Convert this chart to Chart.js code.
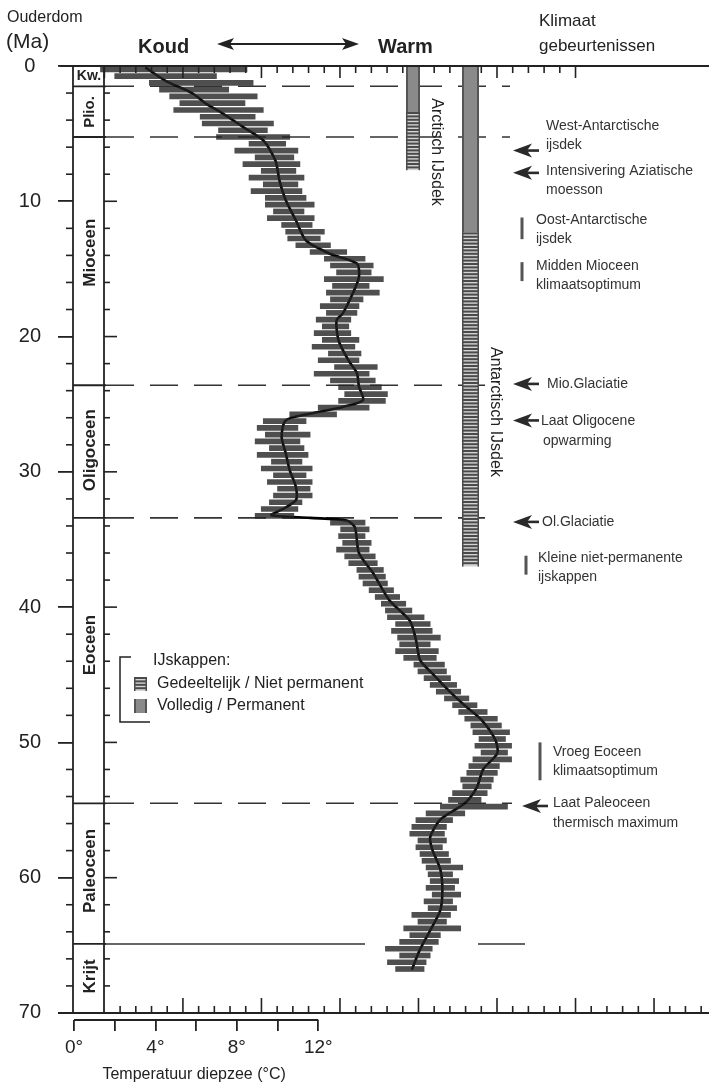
<!DOCTYPE html>
<html>
<head>
<meta charset="utf-8">
<script src="https://cdn.jsdelivr.net/npm/chart.js@4.4.1/dist/chart.umd.min.js"></script>
<style>
  html, body { margin: 0; padding: 0; background: #fff; }
  #wrap { width: 709px; height: 1086px; }
</style>
</head>
<body>
<div id="wrap"><canvas id="c" width="709" height="1086"></canvas></div>
<script>
// Gladde curve: ouderdom (Ma) en temperatuur diepzee (°C)
const smoothAge = [0.1, 1.1, 2.0, 2.8, 3.5, 4.5, 5.5, 7.0, 8.5, 9.9,
  11.4, 12.9, 13.9, 14.6, 15.6, 16.8, 18.3, 18.8, 20.3, 21.8,
  22.7, 23.7, 24.7, 25.2, 25.7, 26.2, 27.4, 28.6, 29.9, 31.1,
  32.1, 32.8, 33.2, 33.4, 33.6, 34.1, 36.0, 37.5, 39.5, 41.0,
  42.4, 43.9, 44.9, 46.3, 47.4, 48.3, 49.8, 50.8, 52.0, 53.3,
  54.5, 55.7, 57.0, 57.9, 59.4, 60.9, 62.4, 63.9, 65.3, 66.8];
const smoothTemp = [3.5, 4.5, 5.8, 6.5, 7.3, 8.3, 9.3, 9.9, 10.1, 10.4,
  10.9, 11.4, 12.6, 13.9, 14.0, 13.7, 13.2, 12.9, 13.0, 13.5,
  13.9, 14.0, 14.2, 13.2, 11.6, 10.4, 10.2, 10.4, 10.6, 10.9,
  10.9, 10.2, 9.7, 11.6, 13.4, 13.8, 14.0, 14.7, 15.5, 16.5,
  16.8, 17.0, 17.6, 18.5, 19.3, 20.0, 20.7, 20.8, 20.1, 19.8,
  19.2, 18.0, 17.5, 17.6, 18.0, 18.1, 18.0, 17.5, 17.0, 16.6];

// Ruwe metingen: spreiding per halve Ma (laagste / hoogste waarde)
const rawAge = [0.25, 0.75, 1.25, 1.75, 2.25, 2.75, 3.25, 3.75, 4.25, 4.75,
  5.25, 5.75, 6.25, 6.75, 7.25, 7.75, 8.25, 8.75, 9.25, 9.75,
  10.25, 10.75, 11.25, 11.75, 12.25, 12.75, 13.25, 13.75, 14.25, 14.75,
  15.25, 15.75, 16.25, 16.75, 17.25, 17.75, 18.25, 18.75, 19.25, 19.75,
  20.25, 20.75, 21.25, 21.75, 22.25, 22.75, 23.25, 23.75, 24.25, 24.75,
  25.25, 25.75, 26.25, 26.75, 27.25, 27.75, 28.25, 28.75, 29.25, 29.75,
  30.25, 30.75, 31.25, 31.75, 32.25, 32.75, 33.25, 33.75, 34.25, 34.75,
  35.25, 35.75, 36.25, 36.75, 37.25, 37.75, 38.25, 38.75, 39.25, 39.75,
  40.25, 40.75, 41.25, 41.75, 42.25, 42.75, 43.25, 43.75, 44.25, 44.75,
  45.25, 45.75, 46.25, 46.75, 47.25, 47.75, 48.25, 48.75, 49.25, 49.75,
  50.25, 50.75, 51.25, 51.75, 52.25, 52.75, 53.25, 53.75, 54.25, 54.75,
  55.25, 55.75, 56.25, 56.75, 57.25, 57.75, 58.25, 58.75, 59.25, 59.75,
  60.25, 60.75, 61.25, 61.75, 62.25, 62.75, 63.25, 63.75, 64.25, 64.75,
  65.25, 65.75, 66.25, 66.75];
const rawLo = [1.3, 2.0, 3.7, 4.2, 4.7, 5.2, 4.9, 6.2, 6.3, 7.1,
  7.0, 8.6, 7.9, 8.9, 8.3, 9.2, 8.6, 9.3, 8.7, 9.4,
  9.4, 9.8, 9.5, 10.2, 10.4, 10.5, 10.9, 11.6, 12.3, 12.6,
  12.9, 12.3, 12.7, 12.4, 12.6, 12.1, 12.4, 11.9, 12.2, 11.8,
  12.2, 11.7, 12.5, 12.0, 12.8, 11.8, 12.6, 13.0, 13.3, 13.0,
  12.0, 10.6, 9.3, 9.0, 9.4, 8.9, 9.6, 9.0, 9.7, 9.2,
  9.8, 9.5, 10.0, 9.8, 9.6, 9.2, 8.9, 12.6, 13.1, 13.0,
  13.2, 12.9, 13.3, 13.5, 13.9, 14.0, 14.2, 14.5, 14.8, 15.1,
  15.3, 15.4, 15.8, 15.6, 15.9, 16.0, 15.8, 16.2, 16.7, 16.9,
  17.2, 17.5, 17.8, 18.2, 18.6, 18.9, 19.2, 19.5, 19.6, 19.9,
  19.7, 20.0, 19.6, 19.4, 19.3, 19.0, 19.1, 18.6, 18.4, 18.0,
  17.3, 16.8, 16.6, 16.5, 16.9, 16.8, 17.0, 17.1, 17.3, 17.4,
  17.5, 17.3, 17.6, 17.2, 17.4, 16.6, 16.9, 16.2, 16.5, 16.0,
  15.3, 16.0, 15.4, 15.8];
const rawHi = [8.5, 7.0, 8.8, 7.6, 9.0, 8.4, 9.3, 8.9, 9.8, 9.5,
  10.6, 10.4, 11.0, 10.8, 11.1, 10.9, 11.3, 11.0, 11.2, 11.4,
  11.8, 11.3, 11.8, 11.7, 12.3, 12.1, 12.6, 13.4, 14.3, 14.7,
  14.6, 15.2, 14.5, 15.0, 14.2, 14.0, 13.9, 13.6, 13.5, 13.6,
  14.0, 13.8, 14.1, 14.0, 14.9, 14.5, 14.8, 15.1, 15.4, 15.3,
  14.5, 12.9, 11.4, 11.0, 11.6, 11.1, 11.3, 11.5, 11.2, 11.7,
  11.4, 11.7, 11.6, 11.7, 11.2, 11.0, 10.8, 14.3, 14.5, 14.3,
  14.6, 14.5, 14.8, 14.9, 15.2, 15.3, 15.4, 15.7, 16.0, 16.3,
  16.6, 17.2, 17.5, 17.6, 18.0, 17.5, 17.9, 17.8, 18.2, 18.3,
  18.5, 18.8, 19.0, 19.4, 19.8, 20.3, 20.8, 21.0, 21.4, 21.2,
  21.5, 21.3, 21.5, 20.9, 20.8, 20.6, 20.5, 20.3, 20.0, 21.3,
  19.2, 18.6, 18.3, 18.2, 18.3, 18.1, 18.4, 18.5, 19.1, 18.6,
  18.9, 18.7, 19.0, 18.6, 18.8, 18.5, 18.3, 19.0, 18.0, 17.9,
  17.6, 17.5, 17.3, 17.2];

// assen
const ageTicks = [0, 10, 20, 30, 40, 50, 60, 70];
const tempTicks = [0, 2, 4, 6, 8, 10, 12];
const tempLabels = {0: '0°', 4: '4°', 8: '8°', 12: '12°'};

// tijdvakken
const epochBounds = [1.5, 5.25, 23.6, 33.4, 54.5, 64.9];
const epochNames = ['Plio.', 'Mioceen', 'Oligoceen', 'Eoceen', 'Paleoceen', 'Krijt'];
const epochLabelAge = [3.4, 13.8, 28.4, 42.8, 59.5, 67.3];

// ijskappen [van, tot] in Ma
const arcticFull = [0, 3.4];
const arcticPartial = [3.4, 7.7];
const antarcticFull = [0, 12.3];
const antarcticPartial = [12.3, 37.0];

// klimaatgebeurtenissen
const eventArrowAge = [6.25, 7.9, 23.5, 26.2, 33.7, 54.7];
const eventRange = [[11.2, 12.8], [14.5, 15.9], [36.2, 37.6], [50.0, 52.8]];

const FONT = '"Liberation Sans", Arial, Helvetica, sans-serif';
const INK = '#222';

function txt(ctx, s, x, y, font, align) {
  ctx.font = font;
  ctx.textAlign = align || 'left';
  ctx.textBaseline = 'middle';
  ctx.fillText(s, x, y);
}

function solidBar(ctx, x0, x1, y0, y1) {
  ctx.fillStyle = '#8a8a8a';
  ctx.fillRect(x0, y0, x1 - x0, y1 - y0);
  ctx.fillStyle = '#555';
  ctx.fillRect(x0, y0, 2, y1 - y0);
  ctx.fillRect(x1 - 2, y0, 2, y1 - y0);
}

function hatchBar(ctx, x0, x1, y0, y1) {
  ctx.fillStyle = '#d4d4d4';
  ctx.fillRect(x0, y0, x1 - x0, y1 - y0);
  ctx.fillStyle = '#4a4a4a';
  for (let y = y0; y < y1 - 1; y += 3.4) ctx.fillRect(x0, y, x1 - x0, 2);
  ctx.fillRect(x0, y0, 1.5, y1 - y0);
  ctx.fillRect(x1 - 1.5, y0, 1.5, y1 - y0);
}

function arrowLeft(ctx, x, y) {
  ctx.fillStyle = '#2a2a2a';
  ctx.beginPath();
  ctx.moveTo(x, y);
  ctx.lineTo(x + 19, y - 7);
  ctx.lineTo(x + 14, y);
  ctx.lineTo(x + 19, y + 7);
  ctx.closePath();
  ctx.fill();
  ctx.fillRect(x + 12, y - 1.3, 14, 2.6);
}

function line(ctx, x0, y0, x1, y1) {
  ctx.beginPath();
  ctx.moveTo(x0, y0);
  ctx.lineTo(x1, y1);
  ctx.stroke();
}

const decor = {
  id: 'decor',
  beforeDatasetsDraw(chart) {
    const ctx = chart.ctx;
    const Y = a => chart.scales.y.getPixelForValue(a);
    const D = d => chart.scales.xd.getPixelForValue(d);
    ctx.save();
    ctx.strokeStyle = INK;

    // d18O maatstreepjes boven en onder
    ctx.lineWidth = 1.6;
    for (let k = -5; k <= 25; k++) {
      const x = D(k / 5), len = k % 5 === 0 ? 12 : 7;
      line(ctx, x, Y(0), x, Y(0) + len);
    }
    for (let k = -13; k <= 24; k++) {
      const x = D(k / 5), len = k % 5 === 0 ? 15 : 7;
      line(ctx, x, Y(70), x, Y(70) - len);
    }

    // gestreepte grenzen tussen tijdvakken
    ctx.lineWidth = 1.6;
    ctx.strokeStyle = '#333';
    ctx.setLineDash([28, 16]);
    const ends = [510, 510, 485, 485, 512];
    for (let i = 0; i < 5; i++) line(ctx, 106, Y(epochBounds[i]), ends[i], Y(epochBounds[i]));
    ctx.setLineDash([]);
    line(ctx, 104, Y(epochBounds[5]), 365, Y(epochBounds[5]));
    line(ctx, 478, Y(epochBounds[5]), 525, Y(epochBounds[5]));

    // ijskappen
    solidBar(ctx, 406, 420, Y(arcticFull[0]), Y(arcticFull[1]));
    hatchBar(ctx, 406, 420, Y(arcticPartial[0]), Y(arcticPartial[1]));
    solidBar(ctx, 462, 479, Y(antarcticFull[0]), Y(antarcticFull[1]));
    hatchBar(ctx, 462, 479, Y(antarcticPartial[0]), Y(antarcticPartial[1]));
    ctx.restore();
  },
  afterDraw(chart) {
    const ctx = chart.ctx;
    const Y = a => chart.scales.y.getPixelForValue(a);
    const X = t => chart.scales.x.getPixelForValue(t);
    ctx.save();
    ctx.strokeStyle = INK;
    ctx.fillStyle = INK;

    // boven- en onderrand
    ctx.lineWidth = 2;
    line(ctx, 60, Y(0), 709, Y(0));
    line(ctx, 58, Y(70), 709, Y(70));

    // tijdkolom
    ctx.lineWidth = 1.8;
    line(ctx, 73, Y(0), 73, Y(70));
    line(ctx, 104, Y(0), 104, Y(70));
    epochBounds.forEach(a => line(ctx, 73, Y(a), 106, Y(a)));
    ctx.lineWidth = 1.6;
    for (let a = 2; a < 70; a += 2) {
      if (a % 10 === 0) { line(ctx, 104, Y(a), 117, Y(a)); }
      else { line(ctx, 66, Y(a), 73, Y(a)); line(ctx, 104, Y(a), 110, Y(a)); }
    }
    txt(ctx, 'Kw.', 89, Y(0.75), 'bold 14px ' + FONT, 'center');
    epochNames.forEach((n, i) => {
      ctx.save();
      ctx.translate(89, Y(epochLabelAge[i]));
      ctx.rotate(-Math.PI / 2);
      txt(ctx, n, 0, 1, 'bold ' + (i === 0 ? 15 : 17) + 'px ' + FONT, 'center');
      ctx.restore();
    });

    // kop
    txt(ctx, 'Ouderdom', 7, 18, '16px ' + FONT);
    txt(ctx, '(Ma)', 6, 42, '21px ' + FONT);
    txt(ctx, 'Koud', 138, 47, 'bold 20px ' + FONT);
    txt(ctx, 'Warm', 378, 47, 'bold 20px ' + FONT);
    ctx.lineWidth = 2;
    line(ctx, 222, 44, 354, 44);
    ctx.beginPath();
    ctx.moveTo(217, 44); ctx.lineTo(234, 38); ctx.lineTo(230, 44); ctx.lineTo(234, 50); ctx.closePath();
    ctx.moveTo(359, 44); ctx.lineTo(342, 38); ctx.lineTo(346, 44); ctx.lineTo(342, 50); ctx.closePath();
    ctx.fill();
    txt(ctx, 'Klimaat', 539, 21, '17px ' + FONT);
    txt(ctx, 'gebeurtenissen', 539, 46, '17px ' + FONT);

    // namen van de ijskappen
    ctx.save();
    ctx.translate(436, 152); ctx.rotate(Math.PI / 2);
    txt(ctx, 'Arctisch IJsdek', 0, 0, '16px ' + FONT, 'center');
    ctx.restore();
    ctx.save();
    ctx.translate(495, 412); ctx.rotate(Math.PI / 2);
    txt(ctx, 'Antarctisch IJsdek', 0, 0, '16px ' + FONT, 'center');
    ctx.restore();

    // klimaatgebeurtenissen
    ctx.fillStyle = '#333';
    const f = '14px ' + FONT;
    eventArrowAge.forEach((a, i) => arrowLeft(ctx, i === 5 ? 522 : 513, Y(a)));
    ctx.fillStyle = '#555';
    const rx = [522, 522, 526, 540];
    eventRange.forEach((r, i) => ctx.fillRect(rx[i] - 1.5, Y(r[0]), 3, Y(r[1]) - Y(r[0])));
    ctx.fillStyle = '#333';
    txt(ctx, 'West-Antarctische', 546, 126, f);
    txt(ctx, 'ijsdek', 546, 145, f);
    txt(ctx, 'Intensivering Aziatische', 546, 171, f);
    txt(ctx, 'moesson', 546, 190, f);
    txt(ctx, 'Oost-Antarctische', 536, 220, f);
    txt(ctx, 'ijsdek', 536, 239, f);
    txt(ctx, 'Midden Mioceen', 536, 266, f);
    txt(ctx, 'klimaatsoptimum', 536, 285, f);
    txt(ctx, 'Mio.Glaciatie', 547, 384, f);
    txt(ctx, 'Laat Oligocene', 541, 421, f);
    txt(ctx, 'opwarming', 543, 441, f);
    txt(ctx, 'Ol.Glaciatie', 542, 522, f);
    txt(ctx, 'Kleine niet-permanente', 538, 558, f);
    txt(ctx, 'ijskappen', 538, 577, f);
    txt(ctx, 'Vroeg Eoceen', 553, 752, f);
    txt(ctx, 'klimaatsoptimum', 553, 771, f);
    txt(ctx, 'Laat Paleoceen', 553, 803, f);
    txt(ctx, 'thermisch maximum', 553, 823, f);

    // legenda
    ctx.fillStyle = INK;
    ctx.lineWidth = 1.5;
    ctx.beginPath();
    ctx.moveTo(131, 657); ctx.lineTo(120, 657); ctx.lineTo(120, 722); ctx.lineTo(150, 722);
    ctx.stroke();
    txt(ctx, 'IJskappen:', 153, 661, '16px ' + FONT);
    hatchBar(ctx, 134, 147, 677, 691);
    solidBar(ctx, 134, 147, 699, 713);
    ctx.fillStyle = INK;
    txt(ctx, 'Gedeeltelijk / Niet permanent', 157, 684, '16px ' + FONT);
    txt(ctx, 'Volledig / Permanent', 157, 706, '16px ' + FONT);

    // temperatuurschaal
    ctx.lineWidth = 2;
    line(ctx, X(0), chart.chartArea.bottom, X(12), chart.chartArea.bottom);
    txt(ctx, 'Temperatuur diepzee (°C)', X(6) - 2, 1075, '16px ' + FONT, 'center');
    ctx.restore();
  }
};

const ctx = document.getElementById('c').getContext('2d');
new Chart(ctx, {
  type: 'scatter',
  data: {
    datasets: [
      {
        type: 'bar',
        indexAxis: 'y',
        data: rawAge.map((a, i) => ({ y: a, x: [rawLo[i], rawHi[i]] })),
        backgroundColor: 'rgba(35,35,35,0.8)',
        borderWidth: 0,
        barThickness: 5,
        xAxisID: 'x',
        yAxisID: 'y'
      },
      {
        type: 'line',
        indexAxis: 'y',
        data: smoothAge.map((a, i) => ({ y: a, x: smoothTemp[i] })),
        borderColor: '#000',
        borderWidth: 2.6,
        pointRadius: 0,
        tension: 0.25,
        fill: false,
        xAxisID: 'x',
        yAxisID: 'y'
      }
    ]
  },
  options: {
    responsive: false,
    animation: false,
    devicePixelRatio: 1,
    layout: { padding: { top: 66, left: 0, right: 0, bottom: 0 } },
    plugins: { legend: { display: false }, tooltip: { enabled: false } },
    scales: {
      x: {
        type: 'linear', position: 'bottom', min: -0.05, max: 31.2, offset: false,
        grid: { offset: false, drawOnChartArea: false, drawTicks: true, tickLength: 11, color: INK, lineWidth: 1.8 },
        border: { display: false },
        ticks: { autoSkip: false, maxRotation: 0, padding: 5, color: INK, font: { family: FONT, size: 19 },
          callback: v => tempLabels[v] || '' },
        afterBuildTicks: s => { s.ticks = tempTicks.map(v => ({ value: v })); },
        afterFit: s => { s.height = 66; }
      },
      y: {
        type: 'linear', reverse: true, min: 0, max: 70.52, offset: false,
        grid: { offset: false, drawOnChartArea: false, drawTicks: true, tickLength: 15, color: INK, lineWidth: 1.8 },
        border: { display: false },
        ticks: { crossAlign: 'center', padding: 17, color: INK, font: { family: FONT, size: 20 },
          callback: v => String(v) },
        afterBuildTicks: s => { s.ticks = ageTicks.map(v => ({ value: v })); },
        afterFit: s => { s.width = 73; }
      },
      xd: { type: 'linear', display: false, reverse: true, min: -2.70, max: 5.40 }
    }
  },
  plugins: [decor]
});
</script>
</body>
</html>
